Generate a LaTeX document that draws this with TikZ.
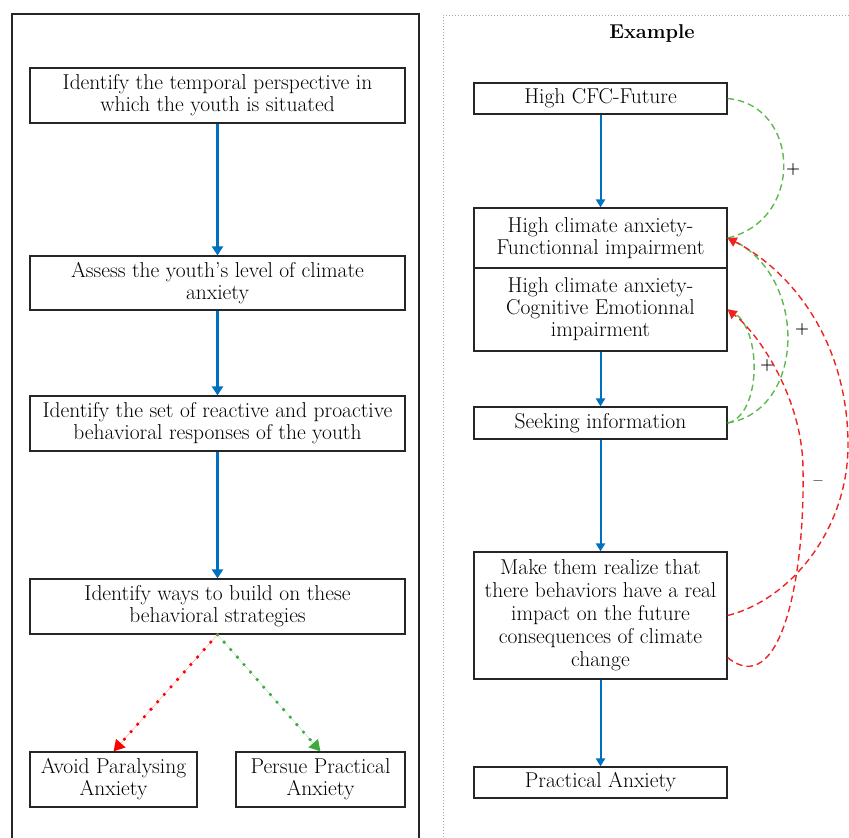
\documentclass[tikz,border=0pt]{standalone}
\usetikzlibrary{arrows.meta}
\definecolor{myblue}{RGB}{0,112,192}
\definecolor{mygreen}{RGB}{95,185,80}
\definecolor{myred}{RGB}{240,35,35}
\definecolor{dotgreen}{RGB}{60,170,60}
\begin{document}
\begin{tikzpicture}[x=1pt,y=-1pt,
  box/.style={draw=black!85,line width=1.2pt,inner sep=0pt,align=center,
    font=\fontsize{21.5}{22}\selectfont},
  flowl/.style={draw=myblue,line width=3pt,-{Triangle[width=11pt,length=9pt]}},
  flowr/.style={draw=myblue,line width=2pt,-{Triangle[width=9pt,length=8pt]}},
  dotarrow/.style={line width=3.6pt,line cap=round,dash pattern=on 0pt off 10pt,
    -{Triangle[width=12pt,length=11pt]}},
  gdash/.style={draw=mygreen,line width=1.4pt,dash pattern=on 6.5pt off 4pt},
  rdash/.style={draw=myred,line width=1.4pt,dash pattern=on 6.5pt off 4pt,
    -{Triangle[width=10pt,length=9pt]}},
  sign/.style={font=\fontsize{16}{18}\selectfont\bfseries,inner sep=1pt}
]
\useasboundingbox (0,0) rectangle (849,838);
\clip (0,0) rectangle (849,838);
\fill[white] (0,0) rectangle (849,838);

% panel frames
\draw[black!85,line width=1.3pt] (12,900) -- (12,14) -- (419,14) -- (419,900);
\draw[black!35,line width=1pt,dash pattern=on 1pt off 2pt] (443,900) -- (443,15) -- (900,15);

% left column
\node[box,minimum width=375pt,minimum height=55pt] (l1) at (217.5,95.5)
  {Identify the temporal perspective in\\which the youth is situated};
\node[box,minimum width=375pt,minimum height=54pt] (l2) at (217.5,283)
  {Assess the youth's level of climate\\anxiety};
\node[box,minimum width=375pt,minimum height=55pt] (l3) at (217.5,423.5)
  {Identify the set of reactive and proactive\\behavioral responses of the youth};
\node[box,minimum width=375pt,minimum height=55pt] (l4) at (217.5,606.5)
  {Identify ways to build on these\\behavioral strategies};
\node[box,minimum width=167pt,minimum height=55pt] (l5) at (113.5,779.5)
  {Avoid Paralysing\\Anxiety};
\node[box,minimum width=169pt,minimum height=55pt] (l6) at (320.5,779.5)
  {Persue Practical\\Anxiety};

\draw[flowl] (l1.south) -- (l2.north);
\draw[flowl] (l2.south) -- (l3.north);
\draw[flowl] (l3.south) -- (l4.north);
\draw[dotarrow,draw=red,fill=red] (l4.south) -- (l5.north);
\draw[dotarrow,draw=dotgreen,fill=dotgreen] (l4.south) -- (l6.north);

% right column
\node[font=\fontsize{20}{22}\selectfont\bfseries] (ex) at (652,33) {Example};
\node[box,minimum width=253pt,minimum height=31pt] (cfc) at (600.5,98.5) {High CFC-Future};
\node[box,minimum width=253pt,minimum height=60pt] (fi) at (600.5,238)
  {High climate anxiety-\\Functionnal impairment};
\node[box,minimum width=253pt,minimum height=83pt] (ce) at (600.5,309.5)
  {High climate anxiety-\\Cognitive Emotionnal\\impairment};
\node[box,minimum width=253pt,minimum height=32pt] (si) at (600.5,423) {Seeking information};
\node[box,minimum width=253pt,minimum height=127pt,font=\fontsize{21.5}{23}\selectfont] (mk) at (600.5,615.5)
  {Make them realize that\\there behaviors have a real\\impact on the future\\consequences of climate\\change};
\node[box,minimum width=253pt,minimum height=31pt] (pa) at (600.5,782.5) {Practical Anxiety};

\draw[flowr] (cfc.south) -- (fi.north);
\draw[flowr] (ce.south) -- (si.north);
\draw[flowr] (si.south) -- (mk.north);
\draw[flowr] (mk.south) -- (pa.north);

% feedback curves
\coordinate (mklow) at ([yshift=22pt]mk.south east);
\draw[gdash] (cfc.east) .. controls (800,105) and (805,220) .. (fi.east);
\draw[gdash] (si.east) .. controls (808,410) and (808,270) .. (fi.east);
\draw[gdash] (si.east) .. controls (763,415) and (763,320) .. (ce.east);
\draw[rdash] (mk.east) .. controls (790,600) and (848,530) .. (848,445)
  .. controls (848,340) and (790,270) .. (fi.east);
\draw[rdash] (mklow) .. controls (780,700) and (805,580) .. (803,470)
  .. controls (803,400) and (760,335) .. (ce.east);

\node[sign] (p1) at (793,170) {+};
\node[sign] (p2) at (802,330) {+};
\node[sign] (p3) at (767,366) {+};
\node[sign] (m1) at (818,483) {--};
\end{tikzpicture}
\end{document}
